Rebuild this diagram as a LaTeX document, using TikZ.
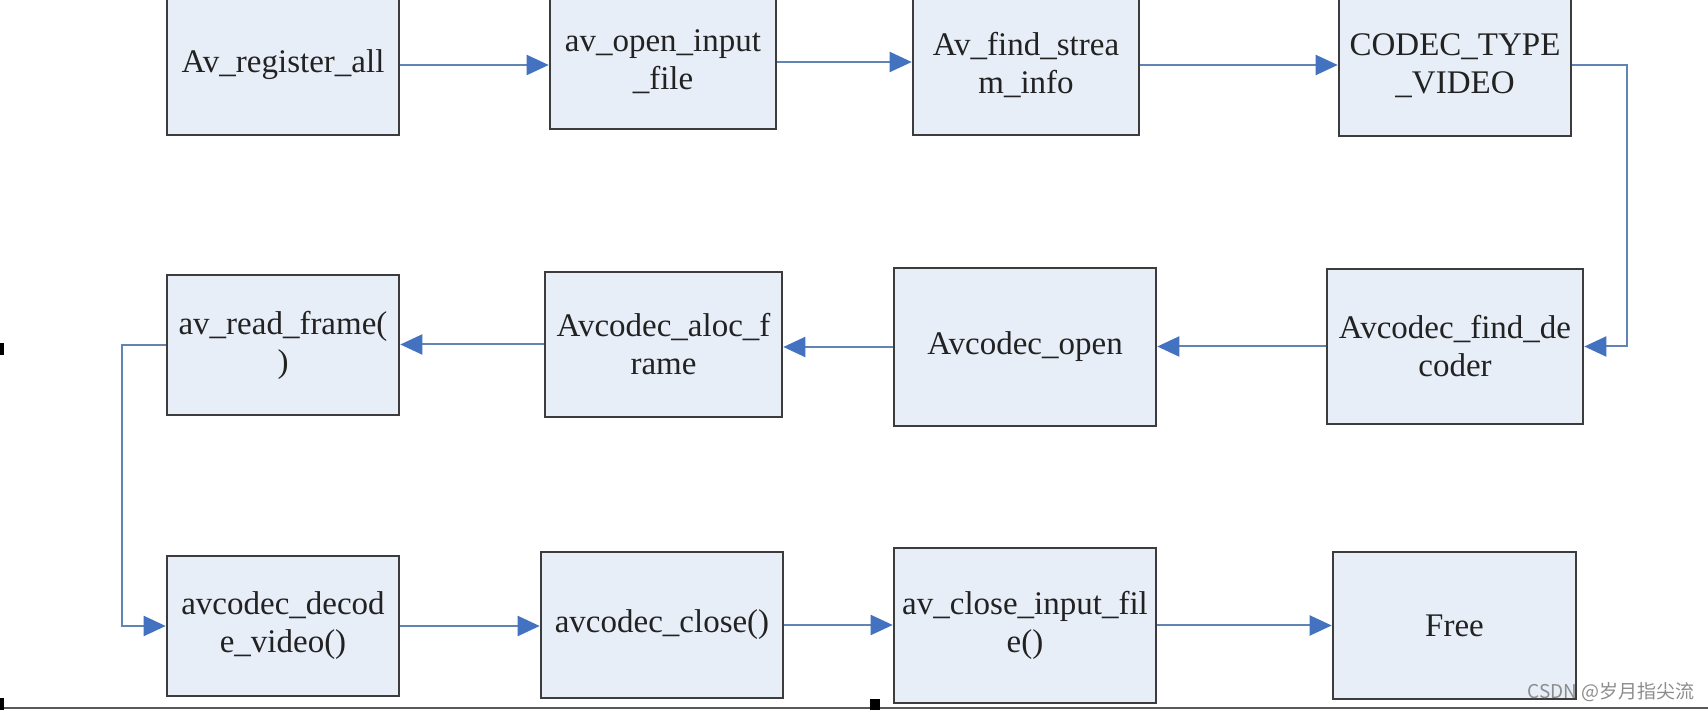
\documentclass[tikz,border=0pt]{standalone}
\usepackage{fontspec}
\setmainfont{Liberation Serif}
\newfontfamily\cjk{Noto Sans CJK SC}
\usetikzlibrary{arrows.meta}
\definecolor{boxfill}{RGB}{232,238,248}
\definecolor{boxline}{RGB}{60,60,60}
\definecolor{flowline}{RGB}{98,132,178}
\definecolor{flowtip}{RGB}{66,114,192}
\definecolor{txt}{RGB}{34,34,34}
\tikzset{blk/.style={draw=boxline, line width=1.3pt, fill=boxfill, text=txt,
                     align=center, inner sep=0pt,
                     font=\fontsize{16.5}{19}\selectfont},
         flow/.style={draw=flowline, line width=1pt,
                      -{Triangle[length=11pt,width=10pt,color=flowtip]}}}

\begin{document}
\begin{tikzpicture}[x=0.5pt,y=-0.5pt]
                \useasboundingbox (0,0) rectangle (1708,710);
                \clip (0,0) rectangle (1708,710);

                \node[blk, minimum width=116pt, minimum height=70pt] (n1) at (283, 65) {Av\_register\_all};
                \node[blk, minimum width=113pt, minimum height=67pt] (n2) at (663, 62) {av\_open\_input\\\_file};
                \node[blk, minimum width=113pt, minimum height=70pt] (n3) at (1026, 65) {Av\_find\_strea\\m\_info};
                \node[blk, minimum width=116pt, minimum height=70.5pt] (n4) at (1455, 65.5) {CODEC\_TYPE\\\_VIDEO};

                \node[blk, minimum width=116pt, minimum height=70pt] (n5) at (283, 345) {av\_read\_frame(\\)};
                \node[blk, minimum width=118.5pt, minimum height=72.5pt] (n6) at (663.5, 344.5) {Avcodec\_aloc\_f\\rame};
                \node[blk, minimum width=131pt, minimum height=79pt] (n7) at (1025, 347) {Avcodec\_open};
                \node[blk, minimum width=128pt, minimum height=77.5pt] (n8) at (1455, 346.5) {Avcodec\_find\_de\\coder};

                \node[blk, minimum width=116pt, minimum height=70pt] (n9) at (283, 626) {avcodec\_decod\\e\_video()};
                \node[blk, minimum width=121pt, minimum height=73pt] (n10) at (662, 625) {avcodec\_close()};
                \node[blk, minimum width=131pt, minimum height=77.5pt] (n11) at (1025, 625.5) {av\_close\_input\_fil\\e()};
                \node[blk, minimum width=121.5pt, minimum height=73.5pt] (n12) at (1454.5, 625.5) {Free};

                \draw[flow] (n1.east) -- (n1.east -| n2.west);
                \draw[flow] (n2.east) -- (n2.east -| n3.west);
                \draw[flow] (n3.east) -- (n3.east -| n4.west);
                \draw[flow] (n4.east) -- ++(55,0) |- (n8.east);

                \draw[flow] (n8.west) -- (n8.west -| n7.east);
                \draw[flow] (n7.west) -- (n7.west -| n6.east);
                \draw[flow] (n6.west) -- (n6.west -| n5.east);
                \draw[flow] (n5.west) -- ++(-44,0) |- (n9.west);

                \draw[flow] (n9.east) -- (n9.east -| n10.west);
                \draw[flow] (n10.east) -- (n10.east -| n11.west);
                \draw[flow] (n11.east) -- (n11.east -| n12.west);

                \node[anchor=east, text=gray!90, inner sep=0pt,
                      font=\cjk\fontsize{9.5}{11}\selectfont] (wm) at (1695, 692) {CSDN @岁月指尖流};

                \draw[gray!70!black, line width=1pt] (0,708) -- (1708,708);
                \fill[black] (0,343) rectangle (4,355);
                \fill[black] (0,698) rectangle (4,710);
                \fill[black] (870,699) rectangle (880,710);
            \end{tikzpicture}
\end{document}
